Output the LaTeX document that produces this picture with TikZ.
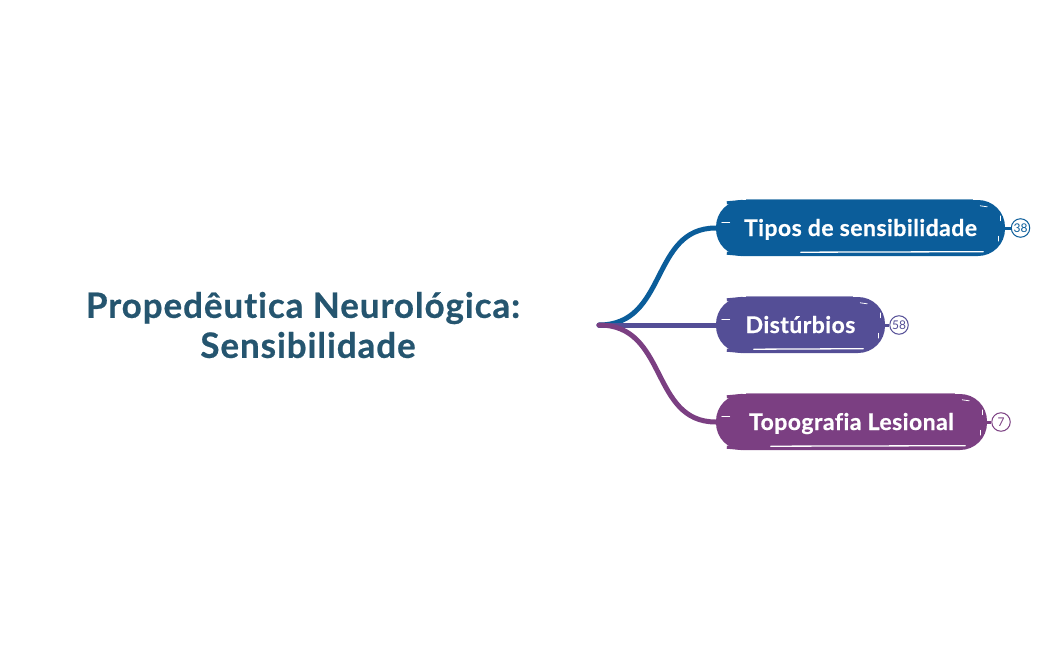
\documentclass[tikz,border=0pt]{standalone}
\usepackage{fontspec}
\setmainfont{Lato}[Ligatures=NoCommon]
\usepackage{tikz}
\definecolor{titlecol}{HTML}{25556F}
\definecolor{tiposcol}{HTML}{0B5D9A}
\definecolor{distcol}{HTML}{544E96}
\definecolor{topocol}{HTML}{7B3F82}
\tikzset{
    pill/.style={fill=#1, text=white, minimum height=56pt, rounded corners=27pt, inner sep=0pt,
        text height=20pt, text depth=4pt,
        font=\fontsize{23}{24}\selectfont\bfseries\addfontfeature{LetterSpace=2,FakeBold=0.6}},
    badge/.style={circle, draw=#1, fill=white, line width=1pt, minimum size=18.5pt, inner sep=0pt,
        text=#1, font=\fontsize{12}{12}\selectfont},
    branch/.style={draw=#1, line width=5pt, line cap=round},
    stub/.style={draw=#1, line width=3pt},
    scratch/.style={draw=white, line cap=round},
}
\begin{document}
\begin{tikzpicture}[x=1pt,y=1pt]
\useasboundingbox (0,0) rectangle (1049,-650);
\node[align=center, text=titlecol, font=\fontsize{35}{40}\selectfont\bfseries\addfontfeature{LetterSpace=2.6,FakeBold=0.6}] (root) at (303,-325)
    {Propedêutica Neurológica:\\\hspace*{10pt}Sensibilidade};
\coordinate (fork) at (599,-325);
% pills
\node[pill=tiposcol, minimum width=289pt] (tipos) at (860.5,-228) {Tipos de sensibilidade};
\node[pill=distcol, minimum width=169pt] (dist) at (800.5,-325) {Distúrbios};
\node[pill=topocol, minimum width=271pt] (topo) at (851.5,-422) {Topografia Lesional};
% badges
\node[badge=tiposcol] (ntipos) at (1020.5,-228) {38};
\node[badge=distcol] (ndist) at (899,-325) {58};
\node[badge=topocol] (ntopo) at (1001,-422) {7};
\draw[stub=tiposcol] (tipos) -- (ntipos);
\draw[stub=distcol] (dist) -- (ndist);
\draw[stub=topocol] (topo) -- (ntopo);
% branches
\draw[branch=tiposcol] (fork) .. controls (668,-325) and (650,-228) .. (tipos.west);
\draw[branch=distcol] (fork) -- (dist.west);
\draw[branch=topocol] (fork) .. controls (668,-325) and (650,-422) .. (topo.west);
% rough edges and white scratches
\foreach \p/\c/\a in {tipos/tiposcol/85,dist/distcol/38,topo/topocol/55} {
    \draw[\c, line width=3pt] ([xshift=11pt,yshift=-3pt]\p.north west) -- ++(16,1.5);
    \draw[\c, line width=3pt] ([xshift=11pt,yshift=3pt]\p.south west) -- ++(16,-1.5);
    \draw[\c!60, line width=1pt] ([xshift=30pt,yshift=0.5pt]\p.north west) -- ([xshift=-32pt,yshift=0.5pt]\p.north east);
    \draw[scratch, line width=0.7pt] ([xshift=6pt,yshift=6pt]\p.west) -- ++(8,0);
    \draw[scratch, line width=1.3pt] ([xshift=-22pt,yshift=4.5pt]\p.south east) -- ([xshift=\a pt,yshift=4pt]\p.south west);
    \draw[scratch, line width=0.8pt] ([xshift=-25pt,yshift=-6pt]\p.north east) -- ++(7,-1);
    \draw[scratch, line width=0.5pt] ([xshift=-5pt,yshift=-16pt]\p.north east) -- ++(0,-5);
    \draw[scratch, line width=0.5pt] ([xshift=-7pt,yshift=15pt]\p.south east) -- ++(0,5);
}
\end{tikzpicture}
\end{document}
